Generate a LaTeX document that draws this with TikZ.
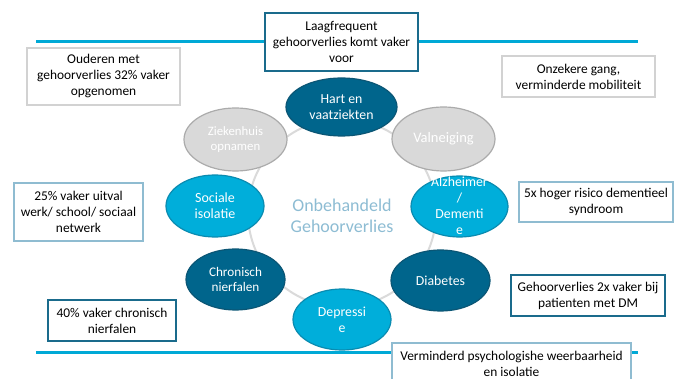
\documentclass[tikz,border=0pt]{standalone}
\usepackage{fontspec}
\setmainfont{Carlito}
\usetikzlibrary{shapes.geometric}
\definecolor{linecyan}{HTML}{00A9D6}
\definecolor{darkfill}{HTML}{00658C}
\definecolor{darkedge}{HTML}{0B5675}
\definecolor{cyanfill}{HTML}{00AEDA}
\definecolor{cyanedge}{HTML}{0A8BB0}
\definecolor{grayfill}{HTML}{D9D9D9}
\definecolor{grayedge}{HTML}{ABABAB}
\definecolor{ringgray}{HTML}{DADADA}
\definecolor{centertext}{HTML}{8DBCD3}
\definecolor{boxdark}{HTML}{1A6B8C}
\definecolor{boxgray}{HTML}{D2D2D2}
\definecolor{boxlight}{HTML}{8FBCD1}
\tikzset{
  rule/.style={draw=linecyan, line width=3pt},
  infobox/.style={rectangle, fill=white, line width=1.6pt, inner sep=0pt, align=center,
     font=\fontsize{13.4}{16}\selectfont, text=black},
  bdark/.style={infobox, draw=boxdark},
  bgray/.style={infobox, draw=boxgray},
  blight/.style={infobox, draw=boxlight},
  ell/.style={ellipse, line width=1.2pt, inner sep=0pt},
  ellDark/.style={ell, fill=darkfill, draw=darkedge},
  ellCyan/.style={ell, fill=cyanfill, draw=cyanedge},
  ellGray/.style={ell, fill=grayfill, draw=grayedge},
  elltext/.style={text=white, align=center, inner sep=0pt, font=\fontsize{13.8}{16}\selectfont},
}
\begin{document}
\begin{tikzpicture}[x=1pt,y=-1pt]
\useasboundingbox (0,0) rectangle (678,379);
% horizontal rules
\coordinate (tl) at (36,42);
\coordinate (tr) at (638,42);
\coordinate (bl) at (36,352.5);
\coordinate (br) at (638,352.5);
\draw[rule] (tl) -- (tr);
\draw[rule] (bl) -- (br);
% boxes
\node[bdark, minimum width=153, minimum height=58] (top) at (341.5,42) {Laagfrequent\\gehoorverlies komt vaker\\voor};
\node[bgray, minimum width=153, minimum height=57] (oud) at (103.5,76.5) {Ouderen met\\gehoorverlies 32\% vaker\\opgenomen};
\node[bgray, minimum width=153, minimum height=41] (onz) at (578.5,76.5) {Onzekere gang,\\verminderde mobiliteit};
\node[blight, minimum width=129, minimum height=58] (uit) at (78.5,212) {25\% vaker uitval\\werk/ school/ sociaal\\netwerk};
\node[blight, minimum width=154, minimum height=40] (dem) at (596,202) {5x hoger risico dementieel\\syndroom};
\node[bdark, minimum width=128, minimum height=41] (nier) at (112,320.5) {40\% vaker chronisch\\nierfalen};
\node[bdark, minimum width=154, minimum height=41] (dm) at (588,295.5) {Gehoorverlies 2x vaker bij\\patienten met DM};
\node[blight, minimum width=239, minimum height=42] (psy) at (511.5,364) {Verminderd psychologishe weerbaarheid\\en isolatie};
% ring
\node[circle, draw=ringgray, line width=2pt, minimum size=188pt, inner sep=0pt] (ring) at (342,213) {};
% ellipses
\node[ellDark, minimum width=111, minimum height=58] (hart) at (341.5,107) {};
\node[ellGray, minimum width=103, minimum height=63] (zie) at (235.5,139.5) {};
\node[ellGray, minimum width=103, minimum height=64] (val) at (443.5,139) {};
\node[ellCyan, minimum width=97, minimum height=61] (alz) at (459.5,206.5) {};
\node[ellCyan, minimum width=98, minimum height=62] (soc) at (215,206) {};
\node[ellDark, minimum width=99, minimum height=61] (chr) at (235.5,279.5) {};
\node[ellDark, minimum width=99, minimum height=61] (dia) at (440.5,280.5) {};
\node[ellCyan, minimum width=98, minimum height=61] (dep) at (342,319.5) {};
% ellipse texts
\node[elltext] at (hart) {Hart en\\vaatziekten};
\node[elltext, font=\fontsize{12.8}{15}\selectfont] at (zie) {Ziekenhuis\\opnamen};
\node[elltext, font=\fontsize{14.5}{16}\selectfont] at (val) {Valneiging};
\node[elltext] at ([yshift=0.5]alz.center) {Alzheimer\\/\\Dementi\\e};
\node[elltext, font=\fontsize{14}{16}\selectfont] at (soc) {Sociale\\isolatie};
\node[elltext, font=\fontsize{13.2}{15}\selectfont] at (chr) {Chronisch\\nierfalen};
\node[elltext] at (dia) {Diabetes};
\node[elltext] at (dep) {Depressi\\e};
% center text
\node[text=centertext, align=center, inner sep=0pt, font=\fontsize{18}{21}\selectfont] (mid) at (342,216) {Onbehandeld\\Gehoorverlies};
\end{tikzpicture}
\end{document}
